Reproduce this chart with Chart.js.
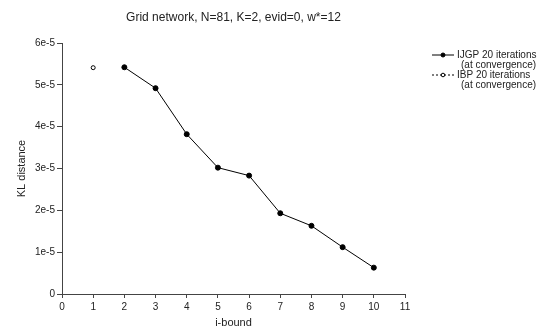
<!DOCTYPE html>
<html>
<head>
<meta charset="utf-8">
<script src="https://cdn.jsdelivr.net/npm/chart.js@4"></script>
<style>
  html, body { margin: 0; padding: 0; background: #fff; }
  #wrap { width: 548px; height: 335px; }
</style>
</head>
<body>
<div id="wrap"><canvas id="klChart"></canvas></div>
<script>
// KL distance vs i-bound, grid network

const titleText = 'Grid network, N=81, K=2, evid=0, w*=12';
const ijgpBounds = [2, 3, 4, 5, 6, 7, 8, 9, 10];
const ijgpKL = [5.42e-5, 4.92e-5, 3.82e-5, 3.02e-5, 2.83e-5, 1.93e-5, 1.63e-5, 1.12e-5, 0.63e-5];
const ibpBounds = [1];
const ibpKL = [5.41e-5];
const legendLines = [
    ['IJGP 20 iterations', '(at convergence)'],
    ['IBP 20 iterations', '(at convergence)']
];

const axisColor = '#444';
const textColor = '#222';
const fontFamily = 'Arial, "Liberation Sans", sans-serif';

// title centred over the plot area, and a two-line legend on the right
const decorations = {
    id: 'decorations',
    afterDraw(chart) {
        const ctx = chart.ctx;
        const area = chart.chartArea;
        ctx.save();
        ctx.fillStyle = textColor;
        ctx.font = '12px ' + fontFamily;
        ctx.textAlign = 'center';
        ctx.textBaseline = 'middle';
        ctx.fillText(titleText, (area.left + area.right) / 2, 18);

        ctx.font = '10px ' + fontFamily;
        ctx.textAlign = 'left';
        const rows = [55, 75];
        chart.data.datasets.forEach((ds, i) => {
            const y = rows[i];
            ctx.strokeStyle = '#000';
            ctx.lineWidth = 1;
            ctx.setLineDash(ds.borderDash || []);
            ctx.beginPath();
            ctx.moveTo(432, y);
            ctx.lineTo(454, y);
            ctx.stroke();
            ctx.setLineDash([]);
            ctx.beginPath();
            ctx.arc(443, y, i === 0 ? 2 : 1.8, 0, Math.PI * 2);
            ctx.fillStyle = ds.pointBackgroundColor;
            ctx.fill();
            ctx.stroke();
            ctx.fillStyle = textColor;
            ctx.fillText(legendLines[i][0], 457, y);
            ctx.fillText(legendLines[i][1], 461, y + 10);
        });
        ctx.restore();
    }
};

const ctx = document.getElementById('klChart').getContext('2d');
new Chart(ctx, {
    type: 'scatter',
    data: {
        datasets: [{
            label: 'IJGP',
            data: ijgpBounds.map((b, i) => ({ x: b, y: ijgpKL[i] })),
            showLine: true,
            borderColor: '#000',
            borderWidth: 1,
            pointRadius: 2.5,
            pointBackgroundColor: '#000',
            pointBorderColor: '#000',
            pointBorderWidth: 1
        }, {
            label: 'IBP',
            data: ibpBounds.map((b, i) => ({ x: b, y: ibpKL[i] })),
            showLine: true,
            borderColor: '#000',
            borderWidth: 1,
            borderDash: [2, 2],
            pointRadius: 2,
            pointBackgroundColor: '#fff',
            pointBorderColor: '#000',
            pointBorderWidth: 1
        }]
    },
    options: {
        responsive: true,
        maintainAspectRatio: false,
        animation: false,
        layout: {
            padding: { top: 43, right: 143, left: 0, bottom: 0 }
        },
        plugins: {
            legend: { display: false },
            tooltip: { enabled: false }
        },
        scales: {
            x: {
                type: 'linear',
                min: 0,
                max: 11,
                afterFit: (scale) => { scale.height = 41; },
                ticks: {
                    stepSize: 1,
                    color: textColor,
                    font: { size: 10, family: fontFamily },
                    padding: 3
                },
                grid: { drawOnChartArea: false, drawTicks: true, tickLength: 4, color: axisColor },
                border: { display: true, color: axisColor, width: 1 },
                title: {
                    display: true,
                    text: 'i-bound',
                    color: textColor,
                    font: { size: 11, family: fontFamily },
                    padding: { top: 0, bottom: 5 }
                }
            },
            y: {
                min: 0,
                max: 6e-5,
                afterFit: (scale) => { scale.width = 62; },
                ticks: {
                    stepSize: 1e-5,
                    color: textColor,
                    font: { size: 10, family: fontFamily },
                    padding: 2,
                    callback: (v) => {
                        const n = Math.round(v * 1e5);
                        return n === 0 ? '0' : n + 'e-5';
                    }
                },
                grid: { drawOnChartArea: false, drawTicks: true, tickLength: 5, color: axisColor },
                border: { display: true, color: axisColor, width: 1 },
                title: {
                    display: true,
                    text: 'KL distance',
                    color: textColor,
                    font: { size: 11, family: fontFamily },
                    padding: { top: 15, bottom: 0 }
                }
            }
        }
    },
    plugins: [decorations]
});
</script>
</body>
</html>
